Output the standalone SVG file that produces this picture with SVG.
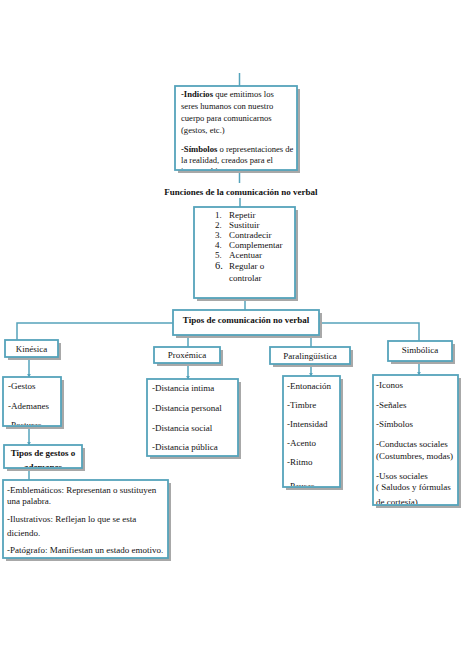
<svg xmlns="http://www.w3.org/2000/svg" width="474" height="670" viewBox="0 0 474 670">
<style>
.sh{fill:#a8a8a8}
.bx{fill:#fff;stroke:#55a3bb;stroke-width:1.8}
.ln{fill:none;stroke:#55a3bb;stroke-width:1.5}
text{font-family:"Liberation Serif","Times New Roman",serif;font-size:9px;fill:#111}
.b{font-weight:bold}
.c{text-anchor:middle}
.s{font-size:8.6px}
</style>
<defs>
<marker id="ah" viewBox="0 0 6 6" refX="5" refY="3" markerWidth="4" markerHeight="4" orient="auto" markerUnits="userSpaceOnUse">
<path d="M0,0 L6,3 L0,6 z" fill="#55a3bb"/>
</marker>
<clipPath id="c1"><rect x="175" y="86" width="122" height="83"/></clipPath>
<clipPath id="c2"><rect x="3" y="377" width="58" height="48"/></clipPath>
<clipPath id="c3"><rect x="4" y="445" width="78" height="22"/></clipPath>
<clipPath id="c4"><rect x="283" y="376" width="57" height="110"/></clipPath>
<clipPath id="c5"><rect x="373" y="375" width="85" height="129"/></clipPath>
</defs>
<rect width="474" height="670" fill="#fff"/>
<g id="connectors">
<path class="ln" d="M239.5,73 V86"/>
<path class="ln" d="M239.5,170 V183"/>
<path class="ln" d="M240,198 V207"/>
<path class="ln" d="M245,298 V310"/>
<path class="ln" d="M17,340 V323 H173"/>
<path class="ln" d="M319,323 H419 V341"/>
<path class="ln" d="M188,335 V347"/>
<path class="ln" d="M311,335 V347"/>
<path class="ln" d="M29,357 V377" marker-end="url(#ah)"/>
<path class="ln" d="M188,363 V379" marker-end="url(#ah)"/>
<path class="ln" d="M311,364 V376" marker-end="url(#ah)"/>
<path class="ln" d="M419,361 V375" marker-end="url(#ah)"/>
<path class="ln" d="M29,426 V445" marker-end="url(#ah)"/>
<path class="ln" d="M29,468 V480"/>
</g>
<g id="indicios">
<rect class="sh" x="178" y="89" width="122" height="84"/>
<rect class="bx" x="175" y="86" width="122" height="84"/>
<g clip-path="url(#c1)">
<text class="s" x="181" y="97"><tspan class="b">-Indicios</tspan> que emitimos los</text>
<text class="s" x="181" y="109">seres humanos con nuestro</text>
<text class="s" x="181" y="121">cuerpo para comunicarnos</text>
<text class="s" x="181" y="133">(gestos, etc.)</text>
<text class="s" x="181" y="152"><tspan class="b">-Símbolos</tspan> o representaciones de</text>
<text class="s" x="181" y="163">la realidad, creados para el</text>
<text class="s" x="181" y="174">intercambio...</text>
</g>
</g>
<g id="funciones-label">
<text class="b c" x="241" y="195">Funciones de la comunicación no verbal</text>
</g>
<g id="funciones">
<rect class="sh" x="197" y="210" width="101" height="91"/>
<rect class="bx" x="194" y="207" width="101" height="91"/>
<text x="215" y="218">1.</text><text x="229" y="218">Repetir</text>
<text x="215" y="228">2.</text><text x="229" y="228">Sustituir</text>
<text x="215" y="238">3.</text><text x="229" y="238">Contradecir</text>
<text x="215" y="248">4.</text><text x="229" y="248">Complementar</text>
<text x="215" y="258">5.</text><text x="229" y="258">Acentuar</text>
<text x="215" y="269" style="font-size:10.5px">6.</text><text x="229" y="269">Regular o</text>
<text x="229" y="281">controlar</text>
</g>
<g id="tipos">
<rect class="sh" x="176" y="313" width="146" height="25"/>
<rect class="bx" x="173" y="310" width="146" height="25"/>
<text class="b c" x="246" y="323">Tipos de comunicación no verbal</text>
</g>
<g id="kinesica">
<rect class="sh" x="8" y="343" width="53" height="17"/>
<rect class="bx" x="5" y="340" width="53" height="17"/>
<text class="c" x="31.5" y="352">Kinésica</text>
</g>
<g id="kinesica-lista">
<rect class="sh" x="6" y="380" width="58" height="49"/>
<rect class="bx" x="3" y="377" width="58" height="49"/>
<g clip-path="url(#c2)">
<text x="8" y="389">-Gestos</text>
<text x="8" y="409">-Ademanes</text>
<text x="8" y="428">-Posturas</text>
</g>
</g>
<g id="tipos-gestos">
<rect class="sh" x="7" y="448" width="78" height="23"/>
<rect class="bx" x="4" y="445" width="78" height="23"/>
<g clip-path="url(#c3)">
<text class="b c" x="43" y="456">Tipos de gestos o</text>
<text class="b c" x="43" y="469.5">ademanes</text>
</g>
</g>
<g id="gestos-lista">
<rect class="sh" x="6" y="483" width="165" height="78"/>
<rect class="bx" x="3" y="480" width="165" height="78"/>
<text x="7" y="493">-Emblemáticos: Representan o sustituyen</text>
<text x="7" y="504">una palabra.</text>
<text x="7" y="522">-Ilustrativos: Reflejan lo que se esta</text>
<text x="7" y="536">diciendo.</text>
<text x="7" y="553">-Patógrafo: Manifiestan un estado emotivo.</text>
</g>
<g id="proxemica">
<rect class="sh" x="157" y="350" width="66" height="16"/>
<rect class="bx" x="154" y="347" width="66" height="16"/>
<text class="c" x="187" y="358">Proxémica</text>
</g>
<g id="proxemica-lista">
<rect class="sh" x="150" y="382" width="91" height="77"/>
<rect class="bx" x="147" y="379" width="91" height="77"/>
<text x="152" y="391">-Distancia intima</text>
<text x="152" y="411">-Distancia personal</text>
<text x="152" y="431">-Distancia social</text>
<text x="152" y="450">-Distancia pública</text>
</g>
<g id="paralinguistica">
<rect class="sh" x="273" y="350" width="80" height="17"/>
<rect class="bx" x="270" y="347" width="80" height="17"/>
<text class="c" x="310" y="359">Paralingüística</text>
</g>
<g id="paralinguistica-lista">
<rect class="sh" x="286" y="379" width="57" height="111"/>
<rect class="bx" x="283" y="376" width="57" height="111"/>
<g clip-path="url(#c4)">
<text x="287" y="389">-Entonación</text>
<text x="287" y="408">-Timbre</text>
<text x="287" y="427">-Intensidad</text>
<text x="287" y="446">-Acento</text>
<text x="287" y="465">-Ritmo</text>
<text x="287" y="488.5">-Pausas</text>
</g>
</g>
<g id="simbolica">
<rect class="sh" x="391" y="344" width="64" height="20"/>
<rect class="bx" x="388" y="341" width="64" height="20"/>
<text class="c" x="420" y="353">Simbólica</text>
</g>
<g id="simbolica-lista">
<rect class="sh" x="376" y="378" width="85" height="130"/>
<rect class="bx" x="373" y="375" width="85" height="130"/>
<g clip-path="url(#c5)">
<text x="376" y="388">-Iconos</text>
<text x="376" y="408">-Señales</text>
<text x="376" y="427">-Símbolos</text>
<text x="376" y="447">-Conductas sociales</text>
<text x="376" y="459">(Costumbres, modas)</text>
<text x="376" y="479">-Usos sociales</text>
<text x="376" y="490">( Saludos y fórmulas</text>
<text x="376" y="505">de cortesía)</text>
</g>
</g>
</svg>
